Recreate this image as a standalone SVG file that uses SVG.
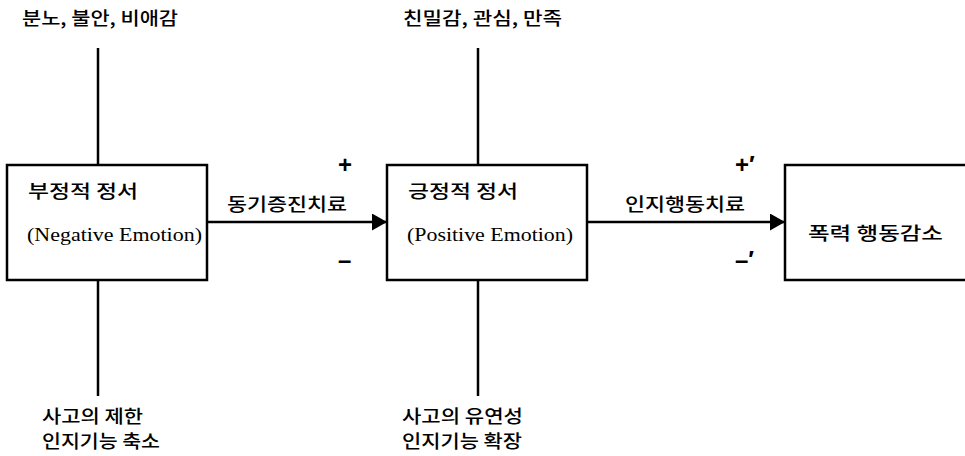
<svg xmlns="http://www.w3.org/2000/svg" width="965" height="456" viewBox="0 0 965 456">
<defs>
<style>
.box{fill:#fff;stroke:#000;stroke-width:2.5}
.ln{stroke:#000;stroke-width:2.5;fill:none}
.k{font-family:"Noto Sans CJK KR","Noto Sans",sans-serif;font-size:18px;fill:#000;font-weight:500}
.e{font-family:"Liberation Serif",serif;font-size:18px;fill:#000}
.s{font-family:"Liberation Sans",sans-serif;font-size:24px;fill:#000;font-weight:bold}
</style>
<marker id="ah" markerWidth="15" markerHeight="17" refX="15" refY="8.5" orient="auto" markerUnits="userSpaceOnUse">
<path d="M0,0 L15,8.5 L0,17 Z" fill="#000"/>
</marker>
</defs>
<rect width="965" height="456" fill="#fff"/>
<g id="connectors">
<line class="ln" x1="98" y1="48" x2="98" y2="165"/>
<line class="ln" x1="98" y1="280" x2="98" y2="396"/>
<line class="ln" x1="478" y1="48" x2="478" y2="165"/>
<line class="ln" x1="478" y1="280" x2="478" y2="396"/>
<line class="ln" x1="207" y1="222" x2="387" y2="222" marker-end="url(#ah)"/>
<line class="ln" x1="587" y1="222" x2="785" y2="222" marker-end="url(#ah)"/>
<text class="k" x="227" y="211" textLength="120" lengthAdjust="spacingAndGlyphs">동기증진치료</text>
<text class="k" x="625" y="211" textLength="120" lengthAdjust="spacingAndGlyphs">인지행동치료</text>
<text class="s" x="338" y="173">+</text>
<text class="s" x="338" y="268">–</text>
<text class="s" x="735" y="173">+′</text>
<text class="s" x="735" y="268">–′</text>
</g>
<g id="neg">
<rect class="box" x="7" y="165" width="200" height="115"/>
<text class="k" x="28" y="198" textLength="110" lengthAdjust="spacingAndGlyphs">부정적 정서</text>
<text class="e" x="27" y="241" textLength="175" lengthAdjust="spacingAndGlyphs">(Negative Emotion)</text>
</g>
<g id="pos">
<rect class="box" x="387" y="165" width="200" height="115"/>
<text class="k" x="408" y="198" textLength="110" lengthAdjust="spacingAndGlyphs">긍정적 정서</text>
<text class="e" x="407" y="241" textLength="166" lengthAdjust="spacingAndGlyphs">(Positive Emotion)</text>
</g>
<g id="result">
<rect class="box" x="785" y="165" width="200" height="115"/>
<text class="k" x="808" y="240" textLength="135" lengthAdjust="spacingAndGlyphs">폭력 행동감소</text>
</g>
<g id="neg-top">
<text class="k" x="22" y="25" textLength="156" lengthAdjust="spacingAndGlyphs">분노, 불안, 비애감</text>
</g>
<g id="pos-top">
<text class="k" x="403" y="25" textLength="159" lengthAdjust="spacingAndGlyphs">친밀감, 관심, 만족</text>
</g>
<g id="neg-bottom">
<text class="k" x="42" y="423" textLength="101" lengthAdjust="spacingAndGlyphs">사고의 제한</text>
<text class="k" x="42" y="448" textLength="118" lengthAdjust="spacingAndGlyphs">인지기능 축소</text>
</g>
<g id="pos-bottom">
<text class="k" x="402" y="423" textLength="121" lengthAdjust="spacingAndGlyphs">사고의 유연성</text>
<text class="k" x="402" y="448" textLength="120" lengthAdjust="spacingAndGlyphs">인지기능 확장</text>
</g>
</svg>
